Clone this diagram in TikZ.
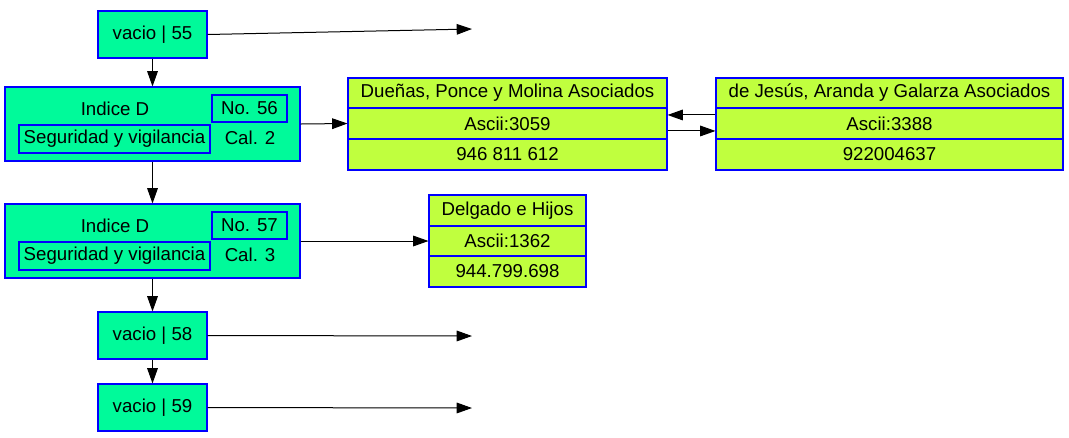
\documentclass[tikz,border=0pt]{standalone}
\usepackage{fontspec}
\setmainfont{Liberation Sans}
\usetikzlibrary{arrows.meta}
\definecolor{sgreen}{RGB}{0,250,154}
\definecolor{lgreen}{RGB}{192,255,62}
\definecolor{bblue}{RGB}{0,0,255}
\tikzset{
  txt/.style={font=\fontsize{14pt}{16pt}\selectfont},
  box/.style={txt, draw=bblue, line width=0.8pt, fill=sgreen, inner sep=0pt},
  inbox/.style={txt, draw=bblue, line width=0.8pt, inner sep=0pt},
  lbl/.style={txt, inner sep=0pt},
  rec/.style={txt, draw=bblue, line width=0.8pt, fill=lgreen, inner sep=0pt},
  link/.style={draw=black, line width=0.75pt, -{Triangle[length=11.5pt,width=8pt]}}
}
\begin{document}
\begin{tikzpicture}[x=0.75pt,y=-0.75pt]
\useasboundingbox (0,0) rectangle (1069,437);
% left column
\node[box, minimum width=81.75pt, minimum height=35.25pt] (v55) at (152.5,34.5) {vacio | 55};
\node[box, minimum width=221.25pt, minimum height=55.5pt] (i56) at (152.5,124) {};
\node[inbox, minimum width=56.25pt, minimum height=20.25pt] (no56) at (249.5,108.5) {No. 56};
\node[inbox, minimum width=143.25pt, minimum height=21pt] (seg56) at (114.5,139) {Seguridad y vigilancia};
\node[lbl] (id56) at (115,109) {Indice D};
\node[lbl] (cal56) at (250,138) {Cal. 2};
\node[box, minimum width=221.25pt, minimum height=55.5pt] (i57) at (152.5,241) {};
\node[inbox, minimum width=56.25pt, minimum height=20.25pt] (no57) at (249.5,225.5) {No. 57};
\node[inbox, minimum width=143.25pt, minimum height=21pt] (seg57) at (114.5,256) {Seguridad y vigilancia};
\node[lbl] (id57) at (115,226) {Indice D};
\node[lbl] (cal57) at (250,255) {Cal. 3};
\node[box, minimum width=81.75pt, minimum height=35.25pt] (v58) at (152.5,335.5) {vacio | 58};
\node[box, minimum width=81.75pt, minimum height=35.25pt] (v59) at (152.5,407.5) {vacio | 59};
% records
\node[rec, minimum width=239.25pt, minimum height=22.5pt] (d1) at (507.5,93) {Dueñas, Ponce y Molina Asociados};
\node[rec, minimum width=239.25pt, minimum height=23.25pt] (d2) at (507.5,123.5) {Ascii:3059};
\node[rec, minimum width=239.25pt, minimum height=23.25pt] (d3) at (507.5,154.5) {946 811 612};
\node[rec, minimum width=260.25pt, minimum height=22.5pt] (j1) at (889.5,93) {de Jesús, Aranda y Galarza Asociados};
\node[rec, minimum width=260.25pt, minimum height=23.25pt] (j2) at (889.5,123.5) {Ascii:3388};
\node[rec, minimum width=260.25pt, minimum height=23.25pt] (j3) at (889.5,154.5) {922004637};
\node[rec, minimum width=117.75pt, minimum height=23.25pt] (g1) at (507.5,210.5) {Delgado e Hijos};
\node[rec, minimum width=117.75pt, minimum height=22.5pt] (g2) at (507.5,241) {Ascii:1362};
\node[rec, minimum width=117.75pt, minimum height=23.25pt] (g3) at (507.5,271.5) {944.799.698};
% free ends
\coordinate (e55) at (472,29);
\coordinate (e58) at (472,336);
\coordinate (e59) at (472,408);
% connectors
\draw[link] (v55.south) -- (i56.north);
\draw[link] (i56.south) -- (i57.north);
\draw[link] (i57.south) -- (v58.north);
\draw[link] (v58.south) -- (v59.north);
\draw[link] (v55.east) -- (e55);
\draw[link] (v58.east) -- (e58);
\draw[link] (v59.east) -- (e59);
\draw[link] (i56.east) -- (d2.west);
\draw[link] (i57.east) -- (g2.west);
\draw[link] ([yshift=6.4pt]j2.west) -- ([yshift=6.4pt]d2.east);
\draw[link] ([yshift=-5.6pt]d2.east) -- ([yshift=-5.6pt]j2.west);
\end{tikzpicture}
\end{document}
